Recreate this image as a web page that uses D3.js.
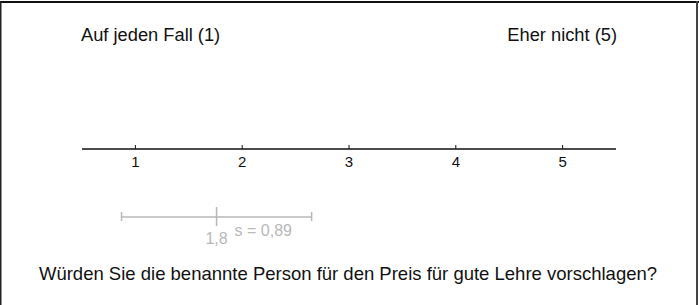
<!DOCTYPE html>
<html><head><meta charset="utf-8">
<script src="https://cdn.jsdelivr.net/npm/d3@7"></script>
<style>html,body{margin:0;padding:0;background:#fff;}svg{display:block;}</style>
</head><body>
<script>
const ticks = [1, 2, 3, 4, 5];
const tickLabels = ["1", "2", "3", "4", "5"];
const poleLabels = ["Auf jeden Fall (1)", "Eher nicht (5)"];
const meanValue = [1.76];
const sdValue = [0.89];
const meanLabel = ["1,8"];
const sdLabel = ["s = 0,89"];
const question = ["Würden Sie die benannte Person für den Preis für gute Lehre vorschlagen?"];

const W = 699, H = 305;
const svg = d3.select("body").append("svg").attr("width", W).attr("height", H);
const font = "Liberation Sans, Arial, sans-serif";

// frame
svg.append("line").attr("x1", 0).attr("x2", 699).attr("y1", 2).attr("y2", 2).attr("stroke", "#111").attr("stroke-width", 2);
svg.append("line").attr("x1", 0.75).attr("x2", 0.75).attr("y1", 1).attr("y2", H).attr("stroke", "#222").attr("stroke-width", 1.5);
svg.append("line").attr("x1", 697).attr("x2", 697).attr("y1", 1).attr("y2", H).attr("stroke", "#444").attr("stroke-width", 2);

const x = d3.scaleLinear().domain([0.5, 5.5]).range([82, 616]);

// pole labels
svg.append("text").attr("x", x(0.5) - 1).attr("y", 41).attr("font-family", font).attr("font-size", 18.3)
  .attr("fill", "#111").text(poleLabels[0]);
svg.append("text").attr("x", x(5.5) + 1).attr("y", 41).attr("font-family", font).attr("font-size", 18.3)
  .attr("fill", "#111").attr("text-anchor", "end").text(poleLabels[1]);

// axis
const axisY = 149;
svg.append("line").attr("x1", x(0.5)).attr("x2", x(5.5)).attr("y1", axisY).attr("y2", axisY)
  .attr("stroke", "#111").attr("stroke-width", 1.5);
svg.selectAll(".tk").data(ticks).join("line").attr("class", "tk")
  .attr("x1", d => x(d)).attr("x2", d => x(d)).attr("y1", axisY - 4).attr("y2", axisY)
  .attr("stroke", "#111").attr("stroke-width", 1);
svg.selectAll(".tl").data(ticks).join("text").attr("class", "tl")
  .attr("x", d => x(d)).attr("y", 167).attr("text-anchor", "middle")
  .attr("font-family", font).attr("font-size", 15).attr("fill", "#111")
  .text((d, i) => tickLabels[i]);

// mean +/- sd
const ebY = 217, gray = "#b8b8b8";
const m = meanValue[0], s = sdValue[0];
svg.append("line").attr("x1", x(m - s)).attr("x2", x(m + s)).attr("y1", ebY).attr("y2", ebY)
  .attr("stroke", gray).attr("stroke-width", 1.5);
svg.selectAll(".ec").data([m - s, m + s]).join("line").attr("class", "ec")
  .attr("x1", d => x(d)).attr("x2", d => x(d)).attr("y1", ebY - 5).attr("y2", ebY + 4)
  .attr("stroke", gray).attr("stroke-width", 1.5);
svg.append("line").attr("x1", x(m)).attr("x2", x(m)).attr("y1", ebY - 10).attr("y2", ebY + 9)
  .attr("stroke", gray).attr("stroke-width", 1.5);
svg.append("text").attr("x", x(m)).attr("y", 244).attr("text-anchor", "middle")
  .attr("font-family", font).attr("font-size", 16).attr("fill", gray).text(meanLabel[0]);
svg.append("text").attr("x", x(m) + 18).attr("y", 236)
  .attr("font-family", font).attr("font-size", 16).attr("fill", gray).text(sdLabel[0]);

// question
svg.append("text").attr("x", 348).attr("y", 280).attr("text-anchor", "middle")
  .attr("font-family", font).attr("font-size", 18.5).attr("fill", "#111").text(question[0]);
</script>
</body></html>
